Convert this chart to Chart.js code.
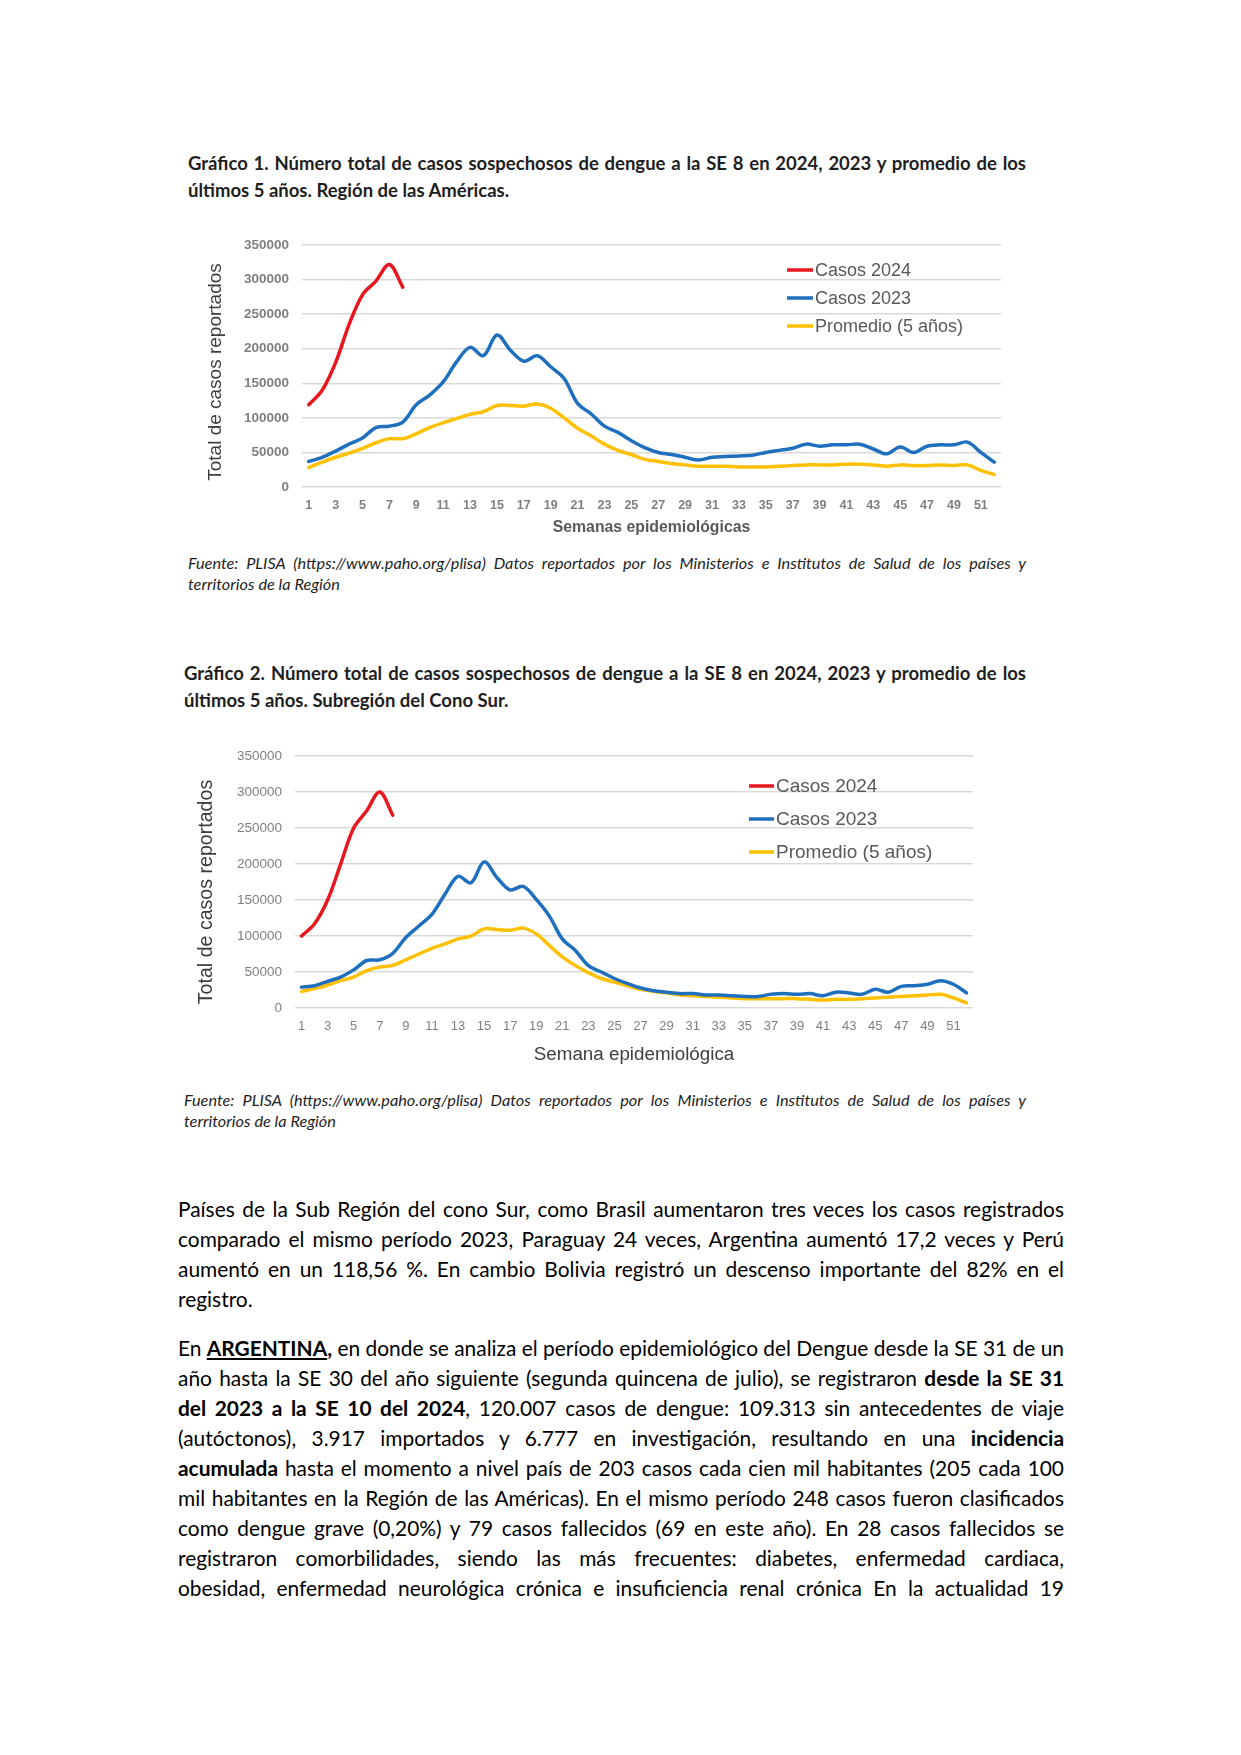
<!DOCTYPE html>
<html lang="es">
<head>
<meta charset="utf-8">
<title>Casos sospechosos de dengue SE 8</title>
<script src="https://cdn.jsdelivr.net/npm/chart.js@4.4.1/dist/chart.umd.min.js"></script>
<style>
  html, body { margin: 0; padding: 0; background: #fff; }
  #page { position: relative; width: 1241px; height: 1755px; overflow: hidden; color: #000; }
  .blk { position: absolute; }
  .ln { white-space: nowrap; transform-origin: 0 0; }
  .ttl { font: bold 18.5px Lato, sans-serif; line-height: 27px; color: #1e1e1e; }
  .src { font: italic 16.3px Lato, sans-serif; line-height: 21px; color: #1e1e1e; }
  .txt { font: 21px Lato, sans-serif; line-height: 30px; color: #000; }
  .gap { height: 19px; }
  canvas { position: absolute; }
</style>
</head>
<body>
<div id="page">

  <div class="blk ttl" style="left:188px; top:150px; width:838px;">
    <div class="ln j"><span>Gráfico 1. Número total de casos sospechosos de dengue a la SE 8 en 2024, 2023 y promedio de los</span></div>
    <div class="ln"><span>últimos 5 años. Región de las Américas.</span></div>
  </div>

  <canvas id="chart1" width="820" height="319" style="left:195px; top:224px;"></canvas>

  <div class="blk src" style="left:188px; top:552px; width:838px;">
    <div class="ln j"><span>Fuente: PLISA (https://www.paho.org/plisa) Datos reportados por los Ministerios e Institutos de Salud de los países y</span></div>
    <div class="ln"><span>territorios de la Región</span></div>
  </div>

  <div class="blk ttl" style="left:184px; top:660px; width:842px;">
    <div class="ln j"><span>Gráfico 2. Número total de casos sospechosos de dengue a la SE 8 en 2024, 2023 y promedio de los</span></div>
    <div class="ln"><span>últimos 5 años. Subregión del Cono Sur.</span></div>
  </div>

  <canvas id="chart2" width="795" height="337" style="left:190px; top:735px;"></canvas>

  <div class="blk src" style="left:184px; top:1089px; width:842px;">
    <div class="ln j"><span>Fuente: PLISA (https://www.paho.org/plisa) Datos reportados por los Ministerios e Institutos de Salud de los países y</span></div>
    <div class="ln"><span>territorios de la Región</span></div>
  </div>

  <div class="blk txt" style="left:178px; top:1194px; width:886px;">
    <div class="ln j"><span>Países de la Sub Región del cono Sur, como Brasil aumentaron tres veces los casos registrados</span></div>
    <div class="ln j"><span>comparado el mismo período 2023, Paraguay 24 veces, Argentina aumentó 17,2 veces y Perú</span></div>
    <div class="ln j"><span>aumentó en un 118,56 %. En cambio Bolivia registró un descenso importante del 82% en el</span></div>
    <div class="ln"><span>registro.</span></div>
    <div class="gap"></div>
    <div class="ln j"><span>En <b><u>ARGENTINA</u>,</b> en donde se analiza el período epidemiológico del Dengue desde la SE 31 de un</span></div>
    <div class="ln j"><span>año hasta la SE 30 del año siguiente (segunda quincena de julio), se registraron <b>desde la SE 31</b></span></div>
    <div class="ln j"><span><b>del 2023 a la SE 10 del 2024</b>, 120.007 casos de dengue: 109.313 sin antecedentes de viaje</span></div>
    <div class="ln j"><span>(autóctonos), 3.917 importados y 6.777 en investigación, resultando en una <b>incidencia</b></span></div>
    <div class="ln j"><span><b>acumulada</b> hasta el momento a nivel país de 203 casos cada cien mil habitantes (205 cada 100</span></div>
    <div class="ln j"><span>mil habitantes en la Región de las Américas). En el mismo período 248 casos fueron clasificados</span></div>
    <div class="ln j"><span>como dengue grave (0,20%) y 79 casos fallecidos (69 en este año). En 28 casos fallecidos se</span></div>
    <div class="ln j"><span>registraron comorbilidades, siendo las más frecuentes: diabetes, enfermedad cardiaca,</span></div>
    <div class="ln j"><span>obesidad, enfermedad neurológica crónica e insuficiencia renal crónica En la actualidad 19</span></div>
  </div>

</div>

<script>
// semanas epidemiologicas
const weeks = ['1','2','3','4','5','6','7','8','9','10','11','12','13','14','15','16','17','18','19','20',
  '21','22','23','24','25','26','27','28','29','30','31','32','33','34','35','36','37','38','39','40',
  '41','42','43','44','45','46','47','48','49','50','51','52'];
const shownWeeks = ['1','3','5','7','9','11','13','15','17','19','21','23','25','27','29','31','33','35',
  '37','39','41','43','45','47','49','51'];
const yTicks = [0, 50000, 100000, 150000, 200000, 250000, 300000, 350000];

// Grafico 1 - Region de las Americas
const americas2024 = [119000, 140000, 180000, 235000, 278000, 298000, 322000, 289000];
const americas2023 = [37000, 43000, 52000, 62000, 71000, 86000, 88000, 94000, 119000, 133000,
  152000, 181000, 202000, 190000, 220000, 198000, 182000, 190000, 174000, 157000,
  121000, 106000, 88000, 79000, 67000, 57000, 50000, 47000, 43000, 39000,
  43000, 44000, 45000, 46000, 50000, 53000, 56000, 62000, 59000, 61000,
  61000, 62000, 55000, 48000, 58000, 50000, 59000, 61000, 61000, 65000, 50000, 36000];
const americasAvg = [28000, 36000, 43000, 49000, 56000, 64000, 70000, 70000, 77000, 86000,
  93000, 99000, 105000, 109000, 118000, 118000, 117000, 120000, 114000, 100000,
  85000, 74000, 62000, 53000, 47000, 40000, 37000, 34000, 32000, 30000,
  30000, 30000, 29000, 29000, 29000, 30000, 31000, 32000, 32000, 32000,
  33000, 33000, 32000, 30000, 32000, 31000, 31000, 32000, 31000, 32000, 24000, 18000];

// Grafico 2 - Subregion del Cono Sur
const conoSur2024 = [100000, 117000, 150000, 200000, 250000, 274000, 300000, 268000];
const conoSur2023 = [29000, 31000, 37000, 43000, 53000, 66000, 67000, 76000, 98000, 114000,
  130000, 158000, 183000, 174000, 203000, 181000, 164000, 169000, 151000, 128000,
  96000, 80000, 59000, 50000, 41000, 34000, 28000, 24000, 22000, 20000,
  20000, 18000, 18000, 17000, 16000, 16000, 19000, 20000, 19000, 20000,
  17000, 22000, 21000, 19000, 26000, 22000, 30000, 31000, 33000, 38000, 33000, 21000];
const conoSurAvg = [23000, 27000, 32000, 38000, 43000, 52000, 57000, 59000, 67000, 75000,
  83000, 89000, 96000, 100000, 110000, 109000, 108000, 111000, 103000, 87000,
  71000, 59000, 49000, 41000, 36000, 31000, 26000, 23000, 21000, 18000,
  17000, 16000, 15000, 14000, 13000, 13000, 13000, 13000, 13000, 12000,
  11000, 12000, 12000, 13000, 14000, 15000, 16000, 17000, 18000, 19000, 14000, 7000];

const RED = '#E8161E';
const BLUE = '#1F6FBF';
const YELLOW = '#FFC000';
const GREY = '#595959';

// leyenda dentro del area del grafico
const insideLegend = {
  id: 'insideLegend',
  afterDraw(chart, args, opts) {
    const ctx = chart.ctx;
    ctx.save();
    ctx.font = opts.font;
    ctx.textBaseline = 'middle';
    chart.data.datasets.forEach((ds, i) => {
      const y = opts.y + i * opts.dy;
      ctx.strokeStyle = ds.borderColor;
      ctx.lineWidth = 3.5;
      ctx.beginPath();
      ctx.moveTo(opts.x, y);
      ctx.lineTo(opts.x + opts.len, y);
      ctx.stroke();
      ctx.fillStyle = GREY;
      ctx.fillText(ds.label, opts.x + opts.len + 2, y + 1);
    });
    ctx.restore();
  }
};

// titulo vertical del eje y (un poco por debajo del centro, como en el original)
const yAxisTitle = {
  id: 'yAxisTitle',
  afterDraw(chart, args, opts) {
    const ctx = chart.ctx;
    ctx.save();
    ctx.translate(opts.x, opts.y);
    ctx.rotate(-Math.PI / 2);
    ctx.font = opts.font;
    ctx.fillStyle = opts.color;
    ctx.textAlign = 'center';
    ctx.textBaseline = 'middle';
    ctx.fillText(opts.text, 0, 0);
    ctx.restore();
  }
};

function makeChart(id, s, d2024, d2023, dAvg) {
  return new Chart(document.getElementById(id), {
    type: 'line',
    data: {
      labels: weeks,
      datasets: [
        { label: 'Casos 2024', data: d2024, borderColor: RED, backgroundColor: RED },
        { label: 'Casos 2023', data: d2023, borderColor: BLUE, backgroundColor: BLUE },
        { label: 'Promedio (5 años)', data: dAvg, borderColor: YELLOW, backgroundColor: YELLOW }
      ]
    },
    options: {
      responsive: false,
      animation: false,
      layout: { padding: { top: s.padTop, right: s.padRight, left: 0, bottom: 0 } },
      elements: {
        point: { radius: 0 },
        line: { borderWidth: 3.5, tension: 0.35, borderCapStyle: 'round', borderJoinStyle: 'round', fill: false }
      },
      plugins: {
        legend: { display: false },
        tooltip: { enabled: false },
        insideLegend: s.legend,
        yAxisTitle: s.yTitle
      },
      scales: {
        x: {
          offset: true,
          grid: { display: false, drawTicks: false },
          border: { display: false },
          ticks: {
            autoSkip: false, maxRotation: 0, padding: s.xTickPad,
            color: '#7f7f7f', font: { family: 'Liberation Sans', size: s.xTickSize, weight: s.tickWeight },
            callback(value) {
              const lab = this.getLabelForValue(value);
              return shownWeeks.includes(lab) ? lab : '';
            }
          },
          title: {
            display: true, text: s.xTitle, color: s.xTitleColor,
            font: { family: 'Liberation Sans', size: s.xTitleSize, weight: s.xTitleWeight },
            padding: { top: 0, bottom: 6 }
          },
          afterFit(sc) { sc.height = s.xHeight; }
        },
        y: {
          min: 0, max: 350000,
          afterBuildTicks(sc) { sc.ticks = yTicks.map(v => ({ value: v })); },
          grid: { color: '#d9d9d9', lineWidth: 1.5, drawTicks: false },
          border: { display: false },
          ticks: {
            padding: 13, color: '#7f7f7f',
            font: { family: 'Liberation Sans', size: 13.5, weight: s.tickWeight },
            callback: v => String(v)
          },
          afterFit(sc) { sc.width = s.yWidth; }
        }
      }
    },
    plugins: [insideLegend, yAxisTitle]
  });
}

makeChart('chart1', {
  padTop: 18, padRight: 14, yWidth: 107,
  xHeight: 56, xTickPad: 11, xTickSize: 12.5, tickWeight: 'bold',
  xTitle: 'Semanas epidemiológicas', xTitleSize: 15.8, xTitleWeight: 'bold', xTitleColor: GREY,
  legend: { x: 592, y: 46, dy: 28, len: 26, font: '18px "Liberation Sans"' },
  yTitle: { text: 'Total de casos reportados', x: 21, y: 148, font: '19px "Liberation Sans"', color: '#3c3c3c' }
}, americas2024, americas2023, americasAvg);

makeChart('chart2', {
  padTop: 18, padRight: 12, yWidth: 105,
  xHeight: 64, xTickPad: 11, xTickSize: 13, tickWeight: 'normal',
  xTitle: 'Semana epidemiológica', xTitleSize: 18.8, xTitleWeight: 'normal', xTitleColor: '#404040',
  legend: { x: 559, y: 51, dy: 33, len: 25, font: '19px "Liberation Sans"' },
  yTitle: { text: 'Total de casos reportados', x: 17, y: 157, font: '19.6px "Liberation Sans"', color: '#3c3c3c' }
}, conoSur2024, conoSur2023, conoSurAvg);

// ajusta cada linea de texto justificada al ancho de su bloque
function fitBlock(block) {
  const W = block.clientWidth;
  const lines = [...block.querySelectorAll('.ln')];
  const widths = lines.map(l => l.firstElementChild.getBoundingClientRect().width);
  let sx = 1;
  lines.forEach((l, i) => {
    if (l.classList.contains('j')) sx = Math.min(sx, W / widths[i]);
  });
  lines.forEach((l, i) => {
    l.style.width = (W / sx) + 'px';
    if (sx < 1) l.style.transform = 'scaleX(' + sx + ')';
    if (l.classList.contains('j')) {
      const n = (l.textContent.match(/ /g) || []).length;
      if (n) l.style.wordSpacing = ((W / sx - widths[i]) / n) + 'px';
    }
  });
}
document.fonts.ready.then(() => {
  document.querySelectorAll('.blk').forEach(fitBlock);
});
</script>
</body>
</html>
